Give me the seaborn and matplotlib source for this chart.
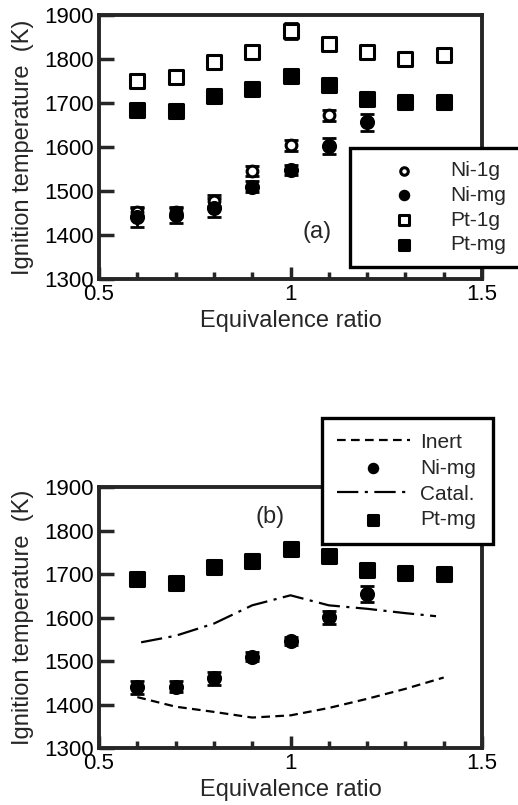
import numpy as np
import pandas as pd
import seaborn as sns
import matplotlib
matplotlib.use("Agg")
import matplotlib.pyplot as plt
from matplotlib.ticker import MultipleLocator, FixedLocator

# equivalence ratio of the measured points
phi = [0.6, 0.7, 0.8, 0.9, 1.0, 1.1, 1.2, 1.3, 1.4]

# panel (a)
pt1g_a = [1751, 1758, 1794, 1815, 1864, 1834, 1815, 1801, 1809]
pt1g_a_err = [8, 15, 15, 8, 18, 8, 8, 8, 8]
ptmg_a = [1685, 1681, 1717, 1731, 1761, 1740, 1709, 1703, 1702]
ptmg_a_err = [12, 12, 12, 10, 12, 12, 12, 10, 8]
phi_ni1g = [0.6, 0.7, 0.8, 0.9, 1.0, 1.1]
ni1g_a = [1453, 1452, 1478, 1545, 1604, 1672]
ni1g_a_err = [10, 10, 12, 12, 12, 12]
phi_nimg = [0.6, 0.7, 0.8, 0.9, 1.0, 1.1, 1.2]
nimg_a = [1440, 1445, 1462, 1510, 1548, 1603, 1656]
nimg_a_err = [22, 18, 22, 12, 12, 18, 20]

# panel (b)
ptmg_b = [1689, 1679, 1715, 1729, 1757, 1742, 1709, 1702, 1700]
ptmg_b_err = [12, 12, 12, 12, 12, 12, 12, 10, 10]
nimg_b = [1440, 1441, 1460, 1510, 1546, 1601, 1654]
nimg_b_err = [15, 12, 15, 10, 10, 15, 18]
phi_inert = [0.6, 0.7, 0.8, 0.9, 1.0, 1.1, 1.2, 1.3, 1.4]
inert = [1417, 1395, 1383, 1370, 1375, 1392, 1413, 1436, 1462]
phi_catal = [0.61, 0.7, 0.8, 0.9, 1.0, 1.1, 1.2, 1.3, 1.38]
catal = [1543, 1558, 1586, 1628, 1651, 1628, 1620, 1610, 1603]

sns.set_style("ticks")
plt.rcParams['font.family'] = ['Liberation Sans', 'DejaVu Sans']
plt.rcParams.update({'xtick.direction': 'in', 'ytick.direction': 'in',
                     'ytick.major.size': 11, 'ytick.major.width': 2.5,
                     'xtick.major.size': 9, 'xtick.minor.size': 5,
                     'xtick.major.width': 2.5, 'xtick.minor.width': 2.5})

fig = plt.figure(figsize=(5.18, 8.05), dpi=100)
W, H = 518, 805
ax1 = fig.add_axes([99 / W, (H - 279) / H, 383 / W, 264 / H])
ax2 = fig.add_axes([99 / W, (H - 748) / H, 383 / W, 261 / H])


def points(ax, x, y, err, marker, face, size, label):
    ax.errorbar(x, y, yerr=err, fmt='none', ecolor='black', elinewidth=2,
                capsize=5, capthick=2, zorder=2)
    sns.scatterplot(x=x, y=y, ax=ax, marker=marker, color=face, edgecolor='black',
                    linewidth=2.2, s=size, label=label, zorder=3, legend=False)


def style_axes(ax):
    ax.set_xlim(0.5, 1.5)
    ax.set_ylim(1300, 1900)
    ax.xaxis.set_major_locator(FixedLocator([0.5, 1.0, 1.5]))
    ax.set_xticklabels(['0.5', '1', '1.5'])
    ax.xaxis.set_minor_locator(MultipleLocator(0.1))
    ax.yaxis.set_major_locator(MultipleLocator(100))
    for lab in ax.get_xticklabels() + ax.get_yticklabels():
        lab.set_fontsize(16)
        lab.set_color('black')
    for s in ax.spines.values():
        s.set_linewidth(2.8)
    ax.set_xlabel('Equivalence ratio', fontsize=17, labelpad=4)
    ax.set_ylabel('Ignition temperature  (K)', fontsize=17)
    ax.yaxis.set_label_coords(-0.17, 0.5)


def make_legend(ax, order, anchor, hl, htp, bp, ls):
    handles, labels = ax.get_legend_handles_labels()
    hmap = dict(zip(labels, handles))
    leg = ax.legend([hmap[k] for k in order], order, loc='lower left',
                    bbox_to_anchor=anchor, bbox_transform=fig.transFigure,
                    mode='expand', borderaxespad=0, fontsize=15, handlelength=hl,
                    handletextpad=htp, labelspacing=ls, borderpad=bp,
                    fancybox=False, framealpha=1, edgecolor='black',
                    scatterpoints=1, markerscale=0.7)
    leg.get_frame().set_linewidth(2.4)
    leg.set_zorder(5)
    return leg


# (a)
points(ax1, phi, pt1g_a, pt1g_a_err, 's', 'white', 90, 'Pt-1g')
points(ax1, phi, ptmg_a, ptmg_a_err, 's', 'black', 90, 'Pt-mg')
points(ax1, phi_ni1g, ni1g_a, ni1g_a_err, 'o', 'white', 60, 'Ni-1g')
points(ax1, phi_nimg, nimg_a, nimg_a_err, 'o', 'black', 75, 'Ni-mg')
style_axes(ax1)
ax1.text(1.07, 1407, '(a)', fontsize=17, ha='center', va='center')
make_legend(ax1, ['Ni-1g', 'Ni-mg', 'Pt-1g', 'Pt-mg'],
            (350 / W, (H - 267) / H, 185 / W, 125 / H), 4, 0.2, 0.6, 0.28)

# (b)
sns.lineplot(x=phi_inert, y=inert, ax=ax2, color='black', linewidth=1.6,
             linestyle=(0, (3.9, 2.4)), label='Inert', legend=False)
sns.lineplot(x=phi_catal, y=catal, ax=ax2, color='black', linewidth=1.6,
             linestyle=(0, (9.6, 2.9, 1.4, 2.9)), label='Catal.', legend=False)
points(ax2, phi, ptmg_b, ptmg_b_err, 's', 'black', 90, 'Pt-mg')
points(ax2, phi_nimg, nimg_b, nimg_b_err, 'o', 'black', 75, 'Ni-mg')
style_axes(ax2)
ax2.text(0.947, 1830, '(b)', fontsize=17, ha='center', va='center')
make_legend(ax2, ['Inert', 'Ni-mg', 'Catal.', 'Pt-mg'],
            (322 / W, (H - 544) / H, 171 / W, 128 / H), 3.5, 0.5, 0.7, 0.33)

fig.savefig('out.png', dpi=100)
